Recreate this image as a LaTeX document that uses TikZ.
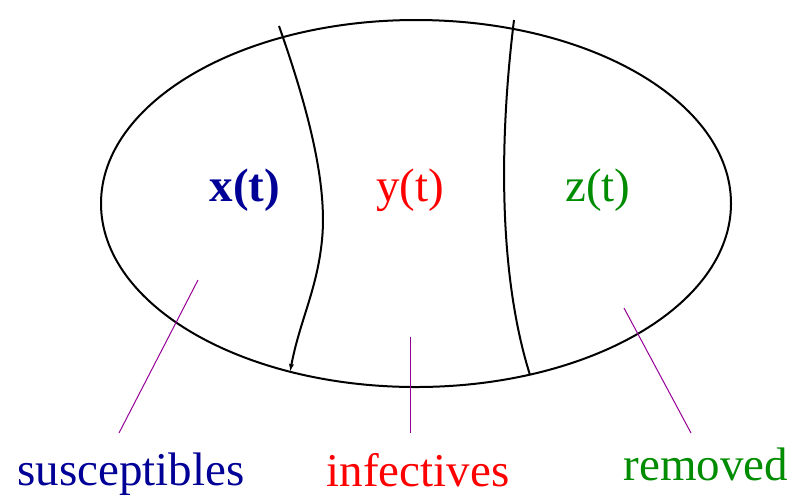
\documentclass[tikz,border=0pt]{standalone}
\usepackage{fontspec}
\setmainfont{Liberation Serif}
\usetikzlibrary{arrows.meta}

\definecolor{sname}{RGB}{0,0,150}
\definecolor{iname}{RGB}{255,0,0}
\definecolor{rname}{RGB}{0,140,0}
\definecolor{pointer}{RGB}{150,0,150}

\begin{document}
\begin{tikzpicture}[x=0.5pt, y=-0.5pt,
  every node/.style={font=\fontsize{23.5}{28}\selectfont, inner sep=0pt},
  pointerline/.style={pointer, line width=0.5pt}]

  \useasboundingbox (0,0) rectangle (792,500);

  % Population: whole ellipse
  \draw[line width=1pt] (416,203.5) ellipse [x radius=315, y radius=183.5];

  % Boundaries between the three classes
  \draw[line width=1pt, -{Latex[length=4pt, width=2.6pt]}]
    (279,26) .. controls (305,100) and (328,180) .. (322,240)
             .. controls (317,290) and (300,320) .. (290,372);
  \draw[line width=1pt]
    (514,20) .. controls (498,150) and (500,280) .. (530,375);

  % Class sizes
  \node[text=sname, font=\fontsize{23.5}{28}\selectfont\bfseries] (xt) at (245,190) {x(t)};
  \node[text=iname] (yt) at (410,190) {y(t)};
  \node[text=rname] (zt) at (598,190) {z(t)};

  % Class names
  \node[text=sname] (sus) at (131,474) {susceptibles};
  \node[text=iname] (inf) at (418,470) {infectives};
  \node[text=rname] (rem) at (706,464) {removed};

  % Pointers from names into the ellipse
  \coordinate (sin) at (198,280);
  \coordinate (sout) at (119,433);
  \coordinate (iin) at (410,337);
  \coordinate (iout) at (410,433);
  \coordinate (rin) at (624,308);
  \coordinate (rout) at (691,433);
  \draw[pointerline] (sout) -- (sin);
  \draw[pointerline] (iout) -- (iin);
  \draw[pointerline] (rout) -- (rin);

\end{tikzpicture}
\end{document}
